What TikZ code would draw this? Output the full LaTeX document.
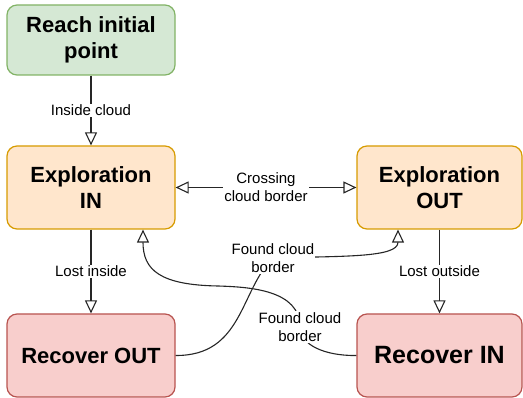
\documentclass[tikz,border=0pt]{standalone}
\usepackage{fontspec}
\setmainfont{Liberation Sans}
\usetikzlibrary{arrows.meta}
\definecolor{startfill}{HTML}{D5E8D4}
\definecolor{startline}{HTML}{82B366}
\definecolor{explfill}{HTML}{FFE6CC}
\definecolor{explline}{HTML}{D79B00}
\definecolor{recfill}{HTML}{F8CECC}
\definecolor{recline}{HTML}{B85450}
\begin{document}
\begin{tikzpicture}[x=1pt,y=-1pt,
  >={Triangle[open,length=13pt,width=12pt]},
  state/.style={draw, rounded corners=10pt, line width=1.2pt, minimum width=168pt,
    minimum height=83pt, align=center, inner sep=2pt,
    font=\fontsize{22}{26}\selectfont\bfseries},
  startstate/.style={state, draw=startline, fill=startfill, minimum height=70pt},
  explstate/.style={state, draw=explline, fill=explfill},
  recstate/.style={state, draw=recline, fill=recfill},
  flow/.style={draw=black!85, line width=1.1pt, ->},
  lbl/.style={fill=white, inner sep=1pt, align=center, font=\fontsize{15}{18}\selectfont}]
\useasboundingbox (0,0) rectangle (523,398);
\node[startstate] (reach) at (91,40) {Reach initial\\point};
\node[explstate] (expIn) at (91,187.5) {Exploration\\IN};
\node[explstate, minimum width=165pt] (expOut) at (439.5,187.5) {Exploration\\OUT};
\node[recstate] (recOut) at (91,355.5) {Recover OUT};
\node[recstate, minimum width=165pt, font=\fontsize{25}{30}\selectfont\bfseries] (recIn) at (439.5,355.5) {Recover IN};

\draw[flow] (reach) -- node[lbl] {Inside cloud} (expIn);
\draw[flow, <->] (expIn) -- node[lbl] {Crossing\\cloud border} (expOut);
\draw[flow] (expIn) -- node[lbl] {Lost inside} (recOut);
\draw[flow] (expOut) -- node[lbl] {Lost outside} (recIn);
\draw[flow] (recOut.east) .. controls (243,356) and (240,290) .. (273,258)
  node[lbl] {Found cloud\\border}
  .. controls (340,256) and (398,258) .. ([xshift=-41.5pt]expOut.south);
\draw[flow] (recIn.west) .. controls (325,356) and (300,345) .. (300,327)
  node[lbl] {Found cloud\\border}
  .. controls (300,290) and (250,287) .. (218,286)
  .. controls (160,285) and (143,270) .. ([xshift=52pt]expIn.south);
\end{tikzpicture}
\end{document}
